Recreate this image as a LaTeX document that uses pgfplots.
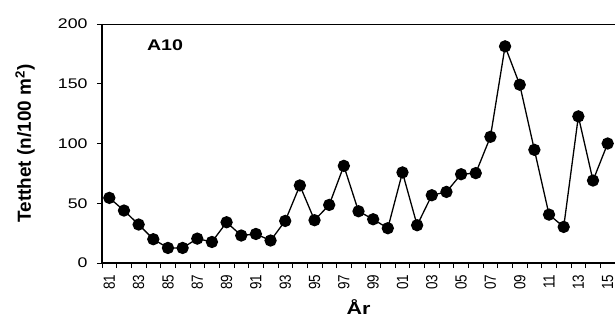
\documentclass[border=0pt]{standalone}
\usepackage{fontspec}
\setmainfont{Liberation Sans}
\newfontfamily\wide{Liberation Sans}[FakeStretch=1.27]
\usepackage{pgfplots}
\pgfplotsset{compat=1.18}
\begin{document}
\begin{tikzpicture}
\begin{axis}[
  at={(0,0)}, anchor=south west,
  scale only axis,
  width=513bp, height=239bp,
  xmin=80.5, xmax=115.5,
  ymin=0, ymax=200,
  ytick={0,50,100,150,200},
  xtick={80.5,81.5,...,115.5},
  xticklabels={},
  extra x ticks={81,83,...,115},
  extra x tick labels={81,83,85,87,89,91,93,95,97,99,01,03,05,07,09,11,13,15},
  extra x tick style={major tick length=0pt},
  tick align=outside,
  major tick length=5bp,
  xtick pos=bottom, ytick pos=left,
  axis line style={line width=0.8bp},
  tick style={line width=0.7bp, black},
  yticklabel style={font=\wide\fontsize{14}{15}\selectfont, xshift=-6bp},
  xticklabel style={font=\fontsize{13.5}{14}\selectfont, yshift=-8bp, rotate=90, yscale=1.2, anchor=east},
  /pgf/number format/assume math mode=true,
  xlabel={\wide\bfseries År},
  ylabel={\bfseries Tetthet (n/100 m\textsuperscript{2})},
  xlabel style={font=\fontsize{17}{18}\selectfont, at={(axis description cs:0.5,0)}, anchor=center, yshift=-44bp},
  ylabel style={font=\fontsize{19}{20}\selectfont, at={(axis description cs:0,0.5)}, anchor=center, yshift=77bp},
  clip=false,
]
\addplot[black, line width=1.3bp, mark=*, mark size=5.5bp, mark options={fill=black}] coordinates {
(81,54.5) (82,43.9) (83,32.2) (84,19.9) (85,12.6) (86,12.6) (87,20.4) (88,17.6) (89,34.1) (90,23.0)
(91,24.3) (92,18.8) (93,35.2) (94,64.9) (95,35.8) (96,48.6) (97,81.3) (98,43.3) (99,36.6) (100,29.1)
(101,75.8) (102,31.6) (103,56.7) (104,59.5) (105,74.3) (106,75.2) (107,105.6) (108,181.3) (109,149.2) (110,94.7)
(111,40.5) (112,30.2) (113,122.7) (114,69.0) (115,100.0)
};
\draw[line width=1.6bp] (rel axis cs:0,1) -- (rel axis cs:0,0) -- (rel axis cs:1,0);
\node[font=\wide\bfseries\fontsize{15.5}{16}\selectfont] at (axis cs:84.8,182.5) {A10};
\end{axis}
\pgfresetboundingbox
\path[use as bounding box] (-102bp,-70bp) rectangle (513bp,263bp);
\end{tikzpicture}
\end{document}
